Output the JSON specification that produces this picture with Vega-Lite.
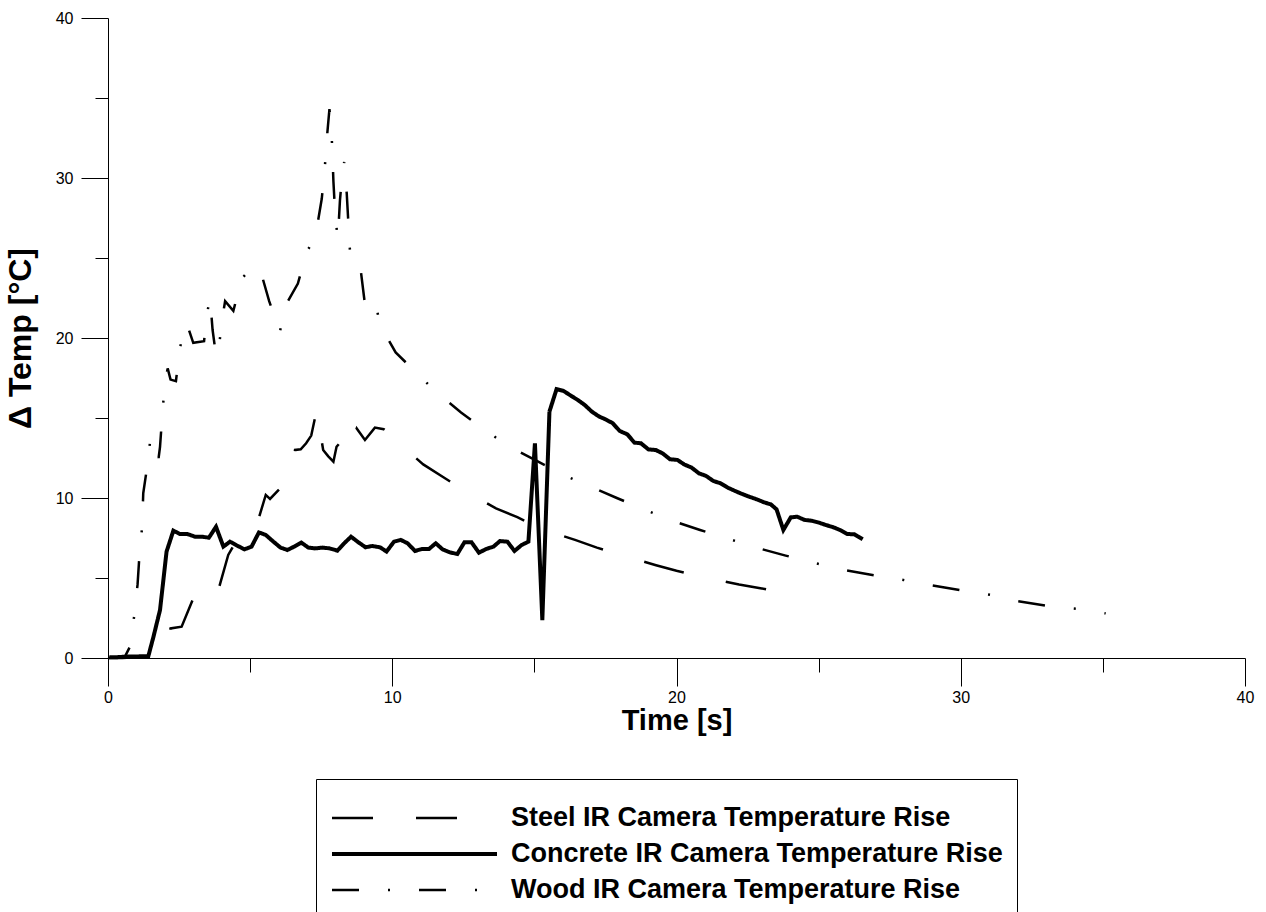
{
  "$schema": "https://vega.github.io/schema/vega-lite/v6.json",
  "width": 1137,
  "height": 640,
  "autosize": {"type": "none"},
  "padding": {"left": 108, "top": 18, "right": 21, "bottom": 254},
  "background": "white",
  "config": {"view": {"stroke": null}, "font": "Liberation Sans"},
  "data": {"values": [
    {"s": "Steel IR Camera Temperature Rise", "t": 0, "v": 0},
    {"s": "Steel IR Camera Temperature Rise", "t": 0.5, "v": 0},
    {"s": "Steel IR Camera Temperature Rise", "t": 1.0, "v": 0.05},
    {"s": "Steel IR Camera Temperature Rise", "t": 1.5, "v": 0.08},
    {"s": "Steel IR Camera Temperature Rise", "t": 2.0, "v": 0.1},
    {"s": "Steel IR Camera Temperature Rise", "t": 2.2, "v": 1.85},
    {"s": "Steel IR Camera Temperature Rise", "t": 2.59, "v": 1.96},
    {"s": "Steel IR Camera Temperature Rise", "t": 3.0, "v": 3.73},
    {"s": "Steel IR Camera Temperature Rise", "t": 3.3, "v": 3.2},
    {"s": "Steel IR Camera Temperature Rise", "t": 3.6, "v": 3.5},
    {"s": "Steel IR Camera Temperature Rise", "t": 3.85, "v": 4.04},
    {"s": "Steel IR Camera Temperature Rise", "t": 4.23, "v": 6.44},
    {"s": "Steel IR Camera Temperature Rise", "t": 4.6, "v": 7.6},
    {"s": "Steel IR Camera Temperature Rise", "t": 5.0, "v": 8.52},
    {"s": "Steel IR Camera Temperature Rise", "t": 5.12, "v": 8.8},
    {"s": "Steel IR Camera Temperature Rise", "t": 5.32, "v": 8.83},
    {"s": "Steel IR Camera Temperature Rise", "t": 5.55, "v": 10.19},
    {"s": "Steel IR Camera Temperature Rise", "t": 5.7, "v": 9.94},
    {"s": "Steel IR Camera Temperature Rise", "t": 6.05, "v": 10.6},
    {"s": "Steel IR Camera Temperature Rise", "t": 6.43, "v": 11.44},
    {"s": "Steel IR Camera Temperature Rise", "t": 6.58, "v": 13.0},
    {"s": "Steel IR Camera Temperature Rise", "t": 6.78, "v": 13.04},
    {"s": "Steel IR Camera Temperature Rise", "t": 6.97, "v": 13.42},
    {"s": "Steel IR Camera Temperature Rise", "t": 7.15, "v": 13.9},
    {"s": "Steel IR Camera Temperature Rise", "t": 7.34, "v": 15.5},
    {"s": "Steel IR Camera Temperature Rise", "t": 7.57, "v": 13.0},
    {"s": "Steel IR Camera Temperature Rise", "t": 7.75, "v": 12.6},
    {"s": "Steel IR Camera Temperature Rise", "t": 7.93, "v": 12.27},
    {"s": "Steel IR Camera Temperature Rise", "t": 8.04, "v": 13.2},
    {"s": "Steel IR Camera Temperature Rise", "t": 8.34, "v": 13.83},
    {"s": "Steel IR Camera Temperature Rise", "t": 8.42, "v": 13.1},
    {"s": "Steel IR Camera Temperature Rise", "t": 8.6, "v": 13.6},
    {"s": "Steel IR Camera Temperature Rise", "t": 8.75, "v": 14.35},
    {"s": "Steel IR Camera Temperature Rise", "t": 9.04, "v": 13.63},
    {"s": "Steel IR Camera Temperature Rise", "t": 9.39, "v": 14.4},
    {"s": "Steel IR Camera Temperature Rise", "t": 9.7, "v": 14.3},
    {"s": "Steel IR Camera Temperature Rise", "t": 10.06, "v": 13.83},
    {"s": "Steel IR Camera Temperature Rise", "t": 10.33, "v": 13.2},
    {"s": "Steel IR Camera Temperature Rise", "t": 10.7, "v": 12.7},
    {"s": "Steel IR Camera Temperature Rise", "t": 11.09, "v": 12.1},
    {"s": "Steel IR Camera Temperature Rise", "t": 11.8, "v": 11.3},
    {"s": "Steel IR Camera Temperature Rise", "t": 12.42, "v": 10.6},
    {"s": "Steel IR Camera Temperature Rise", "t": 13.0, "v": 10.0},
    {"s": "Steel IR Camera Temperature Rise", "t": 13.65, "v": 9.35},
    {"s": "Steel IR Camera Temperature Rise", "t": 14.4, "v": 8.8},
    {"s": "Steel IR Camera Temperature Rise", "t": 15.08, "v": 8.2},
    {"s": "Steel IR Camera Temperature Rise", "t": 15.9, "v": 7.69},
    {"s": "Steel IR Camera Temperature Rise", "t": 16.43, "v": 7.38},
    {"s": "Steel IR Camera Temperature Rise", "t": 17.2, "v": 6.9},
    {"s": "Steel IR Camera Temperature Rise", "t": 17.9, "v": 6.5},
    {"s": "Steel IR Camera Temperature Rise", "t": 18.7, "v": 6.1},
    {"s": "Steel IR Camera Temperature Rise", "t": 19.28, "v": 5.8},
    {"s": "Steel IR Camera Temperature Rise", "t": 20.0, "v": 5.45},
    {"s": "Steel IR Camera Temperature Rise", "t": 20.8, "v": 5.1},
    {"s": "Steel IR Camera Temperature Rise", "t": 21.5, "v": 4.85},
    {"s": "Steel IR Camera Temperature Rise", "t": 22.2, "v": 4.6},
    {"s": "Steel IR Camera Temperature Rise", "t": 23.0, "v": 4.35},
    {"s": "Steel IR Camera Temperature Rise", "t": 23.74, "v": 4.1},
    {"s": "Steel IR Camera Temperature Rise", "t": 24.34, "v": 3.83},

    {"s": "Concrete IR Camera Temperature Rise", "t": 0.05, "v": 0.04},
    {"s": "Concrete IR Camera Temperature Rise", "t": 0.3, "v": 0.05},
    {"s": "Concrete IR Camera Temperature Rise", "t": 0.8, "v": 0.1},
    {"s": "Concrete IR Camera Temperature Rise", "t": 1.05, "v": 0.1},
    {"s": "Concrete IR Camera Temperature Rise", "t": 1.42, "v": 0.12},
    {"s": "Concrete IR Camera Temperature Rise", "t": 1.6, "v": 1.33},
    {"s": "Concrete IR Camera Temperature Rise", "t": 1.83, "v": 3.0},
    {"s": "Concrete IR Camera Temperature Rise", "t": 2.06, "v": 6.65},
    {"s": "Concrete IR Camera Temperature Rise", "t": 2.3, "v": 7.96},
    {"s": "Concrete IR Camera Temperature Rise", "t": 2.53, "v": 7.75},
    {"s": "Concrete IR Camera Temperature Rise", "t": 2.79, "v": 7.75},
    {"s": "Concrete IR Camera Temperature Rise", "t": 3.06, "v": 7.58},
    {"s": "Concrete IR Camera Temperature Rise", "t": 3.3, "v": 7.58},
    {"s": "Concrete IR Camera Temperature Rise", "t": 3.55, "v": 7.52},
    {"s": "Concrete IR Camera Temperature Rise", "t": 3.8, "v": 8.2},
    {"s": "Concrete IR Camera Temperature Rise", "t": 4.06, "v": 6.96},
    {"s": "Concrete IR Camera Temperature Rise", "t": 4.29, "v": 7.27},
    {"s": "Concrete IR Camera Temperature Rise", "t": 4.55, "v": 7.02},
    {"s": "Concrete IR Camera Temperature Rise", "t": 4.8, "v": 6.79},
    {"s": "Concrete IR Camera Temperature Rise", "t": 5.05, "v": 6.96},
    {"s": "Concrete IR Camera Temperature Rise", "t": 5.31, "v": 7.85},
    {"s": "Concrete IR Camera Temperature Rise", "t": 5.55, "v": 7.69},
    {"s": "Concrete IR Camera Temperature Rise", "t": 5.82, "v": 7.27},
    {"s": "Concrete IR Camera Temperature Rise", "t": 6.07, "v": 6.9},
    {"s": "Concrete IR Camera Temperature Rise", "t": 6.31, "v": 6.75},
    {"s": "Concrete IR Camera Temperature Rise", "t": 6.55, "v": 6.96},
    {"s": "Concrete IR Camera Temperature Rise", "t": 6.8, "v": 7.21},
    {"s": "Concrete IR Camera Temperature Rise", "t": 7.05, "v": 6.9},
    {"s": "Concrete IR Camera Temperature Rise", "t": 7.28, "v": 6.85},
    {"s": "Concrete IR Camera Temperature Rise", "t": 7.55, "v": 6.9},
    {"s": "Concrete IR Camera Temperature Rise", "t": 7.8, "v": 6.85},
    {"s": "Concrete IR Camera Temperature Rise", "t": 8.07, "v": 6.71},
    {"s": "Concrete IR Camera Temperature Rise", "t": 8.31, "v": 7.17},
    {"s": "Concrete IR Camera Temperature Rise", "t": 8.55, "v": 7.58},
    {"s": "Concrete IR Camera Temperature Rise", "t": 8.81, "v": 7.23},
    {"s": "Concrete IR Camera Temperature Rise", "t": 9.06, "v": 6.92},
    {"s": "Concrete IR Camera Temperature Rise", "t": 9.3, "v": 7.0},
    {"s": "Concrete IR Camera Temperature Rise", "t": 9.57, "v": 6.92},
    {"s": "Concrete IR Camera Temperature Rise", "t": 9.8, "v": 6.65},
    {"s": "Concrete IR Camera Temperature Rise", "t": 10.06, "v": 7.27},
    {"s": "Concrete IR Camera Temperature Rise", "t": 10.3, "v": 7.38},
    {"s": "Concrete IR Camera Temperature Rise", "t": 10.54, "v": 7.17},
    {"s": "Concrete IR Camera Temperature Rise", "t": 10.8, "v": 6.69},
    {"s": "Concrete IR Camera Temperature Rise", "t": 11.04, "v": 6.81},
    {"s": "Concrete IR Camera Temperature Rise", "t": 11.29, "v": 6.81},
    {"s": "Concrete IR Camera Temperature Rise", "t": 11.53, "v": 7.17},
    {"s": "Concrete IR Camera Temperature Rise", "t": 11.77, "v": 6.79},
    {"s": "Concrete IR Camera Temperature Rise", "t": 12.03, "v": 6.6},
    {"s": "Concrete IR Camera Temperature Rise", "t": 12.29, "v": 6.5},
    {"s": "Concrete IR Camera Temperature Rise", "t": 12.54, "v": 7.23},
    {"s": "Concrete IR Camera Temperature Rise", "t": 12.79, "v": 7.23},
    {"s": "Concrete IR Camera Temperature Rise", "t": 13.05, "v": 6.58},
    {"s": "Concrete IR Camera Temperature Rise", "t": 13.3, "v": 6.81},
    {"s": "Concrete IR Camera Temperature Rise", "t": 13.56, "v": 6.96},
    {"s": "Concrete IR Camera Temperature Rise", "t": 13.79, "v": 7.31},
    {"s": "Concrete IR Camera Temperature Rise", "t": 14.05, "v": 7.27},
    {"s": "Concrete IR Camera Temperature Rise", "t": 14.3, "v": 6.69},
    {"s": "Concrete IR Camera Temperature Rise", "t": 14.55, "v": 7.06},
    {"s": "Concrete IR Camera Temperature Rise", "t": 14.79, "v": 7.27},
    {"s": "Concrete IR Camera Temperature Rise", "t": 15.02, "v": 13.42},
    {"s": "Concrete IR Camera Temperature Rise", "t": 15.28, "v": 2.37},
    {"s": "Concrete IR Camera Temperature Rise", "t": 15.53, "v": 15.4},
    {"s": "Concrete IR Camera Temperature Rise", "t": 15.78, "v": 16.8},
    {"s": "Concrete IR Camera Temperature Rise", "t": 16.02, "v": 16.7},
    {"s": "Concrete IR Camera Temperature Rise", "t": 16.28, "v": 16.4},
    {"s": "Concrete IR Camera Temperature Rise", "t": 16.55, "v": 16.1},
    {"s": "Concrete IR Camera Temperature Rise", "t": 16.78, "v": 15.8},
    {"s": "Concrete IR Camera Temperature Rise", "t": 17.02, "v": 15.4},
    {"s": "Concrete IR Camera Temperature Rise", "t": 17.27, "v": 15.1},
    {"s": "Concrete IR Camera Temperature Rise", "t": 17.52, "v": 14.9},
    {"s": "Concrete IR Camera Temperature Rise", "t": 17.76, "v": 14.67},
    {"s": "Concrete IR Camera Temperature Rise", "t": 18.0, "v": 14.19},
    {"s": "Concrete IR Camera Temperature Rise", "t": 18.27, "v": 13.98},
    {"s": "Concrete IR Camera Temperature Rise", "t": 18.52, "v": 13.46},
    {"s": "Concrete IR Camera Temperature Rise", "t": 18.75, "v": 13.42},
    {"s": "Concrete IR Camera Temperature Rise", "t": 19.01, "v": 13.04},
    {"s": "Concrete IR Camera Temperature Rise", "t": 19.27, "v": 13.0},
    {"s": "Concrete IR Camera Temperature Rise", "t": 19.51, "v": 12.79},
    {"s": "Concrete IR Camera Temperature Rise", "t": 19.77, "v": 12.42},
    {"s": "Concrete IR Camera Temperature Rise", "t": 20.03, "v": 12.38},
    {"s": "Concrete IR Camera Temperature Rise", "t": 20.27, "v": 12.1},
    {"s": "Concrete IR Camera Temperature Rise", "t": 20.53, "v": 11.9},
    {"s": "Concrete IR Camera Temperature Rise", "t": 20.79, "v": 11.54},
    {"s": "Concrete IR Camera Temperature Rise", "t": 21.04, "v": 11.38},
    {"s": "Concrete IR Camera Temperature Rise", "t": 21.3, "v": 11.06},
    {"s": "Concrete IR Camera Temperature Rise", "t": 21.55, "v": 10.92},
    {"s": "Concrete IR Camera Temperature Rise", "t": 21.8, "v": 10.65},
    {"s": "Concrete IR Camera Temperature Rise", "t": 22.06, "v": 10.44},
    {"s": "Concrete IR Camera Temperature Rise", "t": 22.31, "v": 10.25},
    {"s": "Concrete IR Camera Temperature Rise", "t": 22.56, "v": 10.08},
    {"s": "Concrete IR Camera Temperature Rise", "t": 22.82, "v": 9.92},
    {"s": "Concrete IR Camera Temperature Rise", "t": 23.08, "v": 9.73},
    {"s": "Concrete IR Camera Temperature Rise", "t": 23.32, "v": 9.6},
    {"s": "Concrete IR Camera Temperature Rise", "t": 23.52, "v": 9.29},
    {"s": "Concrete IR Camera Temperature Rise", "t": 23.76, "v": 8.0},
    {"s": "Concrete IR Camera Temperature Rise", "t": 24.02, "v": 8.79},
    {"s": "Concrete IR Camera Temperature Rise", "t": 24.25, "v": 8.83},
    {"s": "Concrete IR Camera Temperature Rise", "t": 24.5, "v": 8.63},
    {"s": "Concrete IR Camera Temperature Rise", "t": 24.76, "v": 8.58},
    {"s": "Concrete IR Camera Temperature Rise", "t": 25.01, "v": 8.46},
    {"s": "Concrete IR Camera Temperature Rise", "t": 25.26, "v": 8.31},
    {"s": "Concrete IR Camera Temperature Rise", "t": 25.52, "v": 8.17},
    {"s": "Concrete IR Camera Temperature Rise", "t": 25.75, "v": 8.0},
    {"s": "Concrete IR Camera Temperature Rise", "t": 26.01, "v": 7.75},
    {"s": "Concrete IR Camera Temperature Rise", "t": 26.26, "v": 7.73},
    {"s": "Concrete IR Camera Temperature Rise", "t": 26.55, "v": 7.42},

    {"s": "Wood IR Camera Temperature Rise", "t": 0, "v": 0},
    {"s": "Wood IR Camera Temperature Rise", "t": 0.3, "v": 0.05},
    {"s": "Wood IR Camera Temperature Rise", "t": 0.6, "v": 0.1},
    {"s": "Wood IR Camera Temperature Rise", "t": 0.77, "v": 0.7},
    {"s": "Wood IR Camera Temperature Rise", "t": 0.92, "v": 2.6},
    {"s": "Wood IR Camera Temperature Rise", "t": 1.04, "v": 4.6},
    {"s": "Wood IR Camera Temperature Rise", "t": 1.1, "v": 6.25},
    {"s": "Wood IR Camera Temperature Rise", "t": 1.2, "v": 8.2},
    {"s": "Wood IR Camera Temperature Rise", "t": 1.24, "v": 10.3},
    {"s": "Wood IR Camera Temperature Rise", "t": 1.36, "v": 11.75},
    {"s": "Wood IR Camera Temperature Rise", "t": 1.5, "v": 13.8},
    {"s": "Wood IR Camera Temperature Rise", "t": 1.69, "v": 13.3},
    {"s": "Wood IR Camera Temperature Rise", "t": 1.78, "v": 12.5},
    {"s": "Wood IR Camera Temperature Rise", "t": 1.83, "v": 13.2},
    {"s": "Wood IR Camera Temperature Rise", "t": 1.91, "v": 15.2},
    {"s": "Wood IR Camera Temperature Rise", "t": 2.0, "v": 17.2},
    {"s": "Wood IR Camera Temperature Rise", "t": 2.1, "v": 18.1},
    {"s": "Wood IR Camera Temperature Rise", "t": 2.2, "v": 17.4},
    {"s": "Wood IR Camera Temperature Rise", "t": 2.39, "v": 17.3},
    {"s": "Wood IR Camera Temperature Rise", "t": 2.53, "v": 19.4},
    {"s": "Wood IR Camera Temperature Rise", "t": 2.77, "v": 20.9},
    {"s": "Wood IR Camera Temperature Rise", "t": 3.0, "v": 19.7},
    {"s": "Wood IR Camera Temperature Rise", "t": 3.38, "v": 19.8},
    {"s": "Wood IR Camera Temperature Rise", "t": 3.47, "v": 21.4},
    {"s": "Wood IR Camera Temperature Rise", "t": 3.59, "v": 22.5},
    {"s": "Wood IR Camera Temperature Rise", "t": 3.68, "v": 20.5},
    {"s": "Wood IR Camera Temperature Rise", "t": 3.8, "v": 18.9},
    {"s": "Wood IR Camera Temperature Rise", "t": 3.88, "v": 19.0},
    {"s": "Wood IR Camera Temperature Rise", "t": 4.0, "v": 21.0},
    {"s": "Wood IR Camera Temperature Rise", "t": 4.12, "v": 22.3},
    {"s": "Wood IR Camera Temperature Rise", "t": 4.41, "v": 21.7},
    {"s": "Wood IR Camera Temperature Rise", "t": 4.7, "v": 23.7},
    {"s": "Wood IR Camera Temperature Rise", "t": 4.9, "v": 24.1},
    {"s": "Wood IR Camera Temperature Rise", "t": 5.1, "v": 24.0},
    {"s": "Wood IR Camera Temperature Rise", "t": 5.35, "v": 24.3},
    {"s": "Wood IR Camera Temperature Rise", "t": 5.67, "v": 22.3},
    {"s": "Wood IR Camera Temperature Rise", "t": 6.05, "v": 20.4},
    {"s": "Wood IR Camera Temperature Rise", "t": 6.23, "v": 22.0},
    {"s": "Wood IR Camera Temperature Rise", "t": 6.68, "v": 23.4},
    {"s": "Wood IR Camera Temperature Rise", "t": 6.99, "v": 25.4},
    {"s": "Wood IR Camera Temperature Rise", "t": 7.2, "v": 26.0},
    {"s": "Wood IR Camera Temperature Rise", "t": 7.34, "v": 26.8},
    {"s": "Wood IR Camera Temperature Rise", "t": 7.52, "v": 28.7},
    {"s": "Wood IR Camera Temperature Rise", "t": 7.63, "v": 30.7},
    {"s": "Wood IR Camera Temperature Rise", "t": 7.69, "v": 32.3},
    {"s": "Wood IR Camera Temperature Rise", "t": 7.79, "v": 34.3},
    {"s": "Wood IR Camera Temperature Rise", "t": 7.85, "v": 33.4},
    {"s": "Wood IR Camera Temperature Rise", "t": 7.89, "v": 31.75},
    {"s": "Wood IR Camera Temperature Rise", "t": 7.93, "v": 29.8},
    {"s": "Wood IR Camera Temperature Rise", "t": 7.99, "v": 27.8},
    {"s": "Wood IR Camera Temperature Rise", "t": 8.08, "v": 26.2},
    {"s": "Wood IR Camera Temperature Rise", "t": 8.1, "v": 26.6},
    {"s": "Wood IR Camera Temperature Rise", "t": 8.16, "v": 28.6},
    {"s": "Wood IR Camera Temperature Rise", "t": 8.24, "v": 30.2},
    {"s": "Wood IR Camera Temperature Rise", "t": 8.31, "v": 31.0},
    {"s": "Wood IR Camera Temperature Rise", "t": 8.4, "v": 29.0},
    {"s": "Wood IR Camera Temperature Rise", "t": 8.45, "v": 27.4},
    {"s": "Wood IR Camera Temperature Rise", "t": 8.51, "v": 25.5},
    {"s": "Wood IR Camera Temperature Rise", "t": 8.78, "v": 25.3},
    {"s": "Wood IR Camera Temperature Rise", "t": 8.89, "v": 24.25},
    {"s": "Wood IR Camera Temperature Rise", "t": 9.04, "v": 22.1},
    {"s": "Wood IR Camera Temperature Rise", "t": 9.39, "v": 22.4},
    {"s": "Wood IR Camera Temperature Rise", "t": 9.57, "v": 20.8},
    {"s": "Wood IR Camera Temperature Rise", "t": 10.12, "v": 19.1},
    {"s": "Wood IR Camera Temperature Rise", "t": 10.92, "v": 17.7},
    {"s": "Wood IR Camera Temperature Rise", "t": 11.56, "v": 16.6},
    {"s": "Wood IR Camera Temperature Rise", "t": 12.42, "v": 15.35},
    {"s": "Wood IR Camera Temperature Rise", "t": 13.3, "v": 14.2},
    {"s": "Wood IR Camera Temperature Rise", "t": 14.08, "v": 13.25},
    {"s": "Wood IR Camera Temperature Rise", "t": 15.0, "v": 12.4},
    {"s": "Wood IR Camera Temperature Rise", "t": 16.02, "v": 11.44},
    {"s": "Wood IR Camera Temperature Rise", "t": 16.9, "v": 10.77},
    {"s": "Wood IR Camera Temperature Rise", "t": 17.9, "v": 10.0},
    {"s": "Wood IR Camera Temperature Rise", "t": 18.92, "v": 9.25},
    {"s": "Wood IR Camera Temperature Rise", "t": 19.77, "v": 8.63},
    {"s": "Wood IR Camera Temperature Rise", "t": 20.83, "v": 8.0},
    {"s": "Wood IR Camera Temperature Rise", "t": 21.88, "v": 7.42},
    {"s": "Wood IR Camera Temperature Rise", "t": 22.76, "v": 6.92},
    {"s": "Wood IR Camera Temperature Rise", "t": 23.84, "v": 6.4},
    {"s": "Wood IR Camera Temperature Rise", "t": 24.9, "v": 5.92},
    {"s": "Wood IR Camera Temperature Rise", "t": 25.8, "v": 5.54},
    {"s": "Wood IR Camera Temperature Rise", "t": 26.89, "v": 5.19},
    {"s": "Wood IR Camera Temperature Rise", "t": 27.98, "v": 4.88},
    {"s": "Wood IR Camera Temperature Rise", "t": 28.9, "v": 4.56},
    {"s": "Wood IR Camera Temperature Rise", "t": 29.97, "v": 4.25},
    {"s": "Wood IR Camera Temperature Rise", "t": 31.06, "v": 3.94},
    {"s": "Wood IR Camera Temperature Rise", "t": 31.97, "v": 3.56},
    {"s": "Wood IR Camera Temperature Rise", "t": 33.06, "v": 3.25},
    {"s": "Wood IR Camera Temperature Rise", "t": 34.16, "v": 3.06},
    {"s": "Wood IR Camera Temperature Rise", "t": 35.1, "v": 2.79}
  ]},
  "layer": [
    {
      "mark": {"type": "line", "color": "black", "strokeCap": "butt"},
      "encoding": {
        "x": {"field": "t", "type": "quantitative", "scale": {"domain": [0, 40], "nice": false, "zero": true},
          "axis": {"orient": "bottom", "values": [0, 10, 20, 30, 40], "tickSize": 28, "tickColor": "black", "tickWidth": 1,
            "domainColor": "black", "domainWidth": 1, "grid": false, "labelFont": "Liberation Sans", "labelFontSize": 16,
            "labelColor": "black", "labelPadding": 3, "labelOverlap": false, "labelFlush": false,
            "title": "Time [s]", "titleFont": "Liberation Sans", "titleFontSize": 29, "titleFontWeight": "bold", "titleColor": "black",
            "titleX": 568.5, "titleY": 62, "titleAlign": "center", "titleBaseline": "middle"}},
        "y": {"field": "v", "type": "quantitative", "scale": {"domain": [0, 40], "nice": false, "zero": true},
          "axis": {"orient": "left", "values": [0, 10, 20, 30, 40], "tickSize": 27, "tickColor": "black", "tickWidth": 1,
            "domainColor": "black", "domainWidth": 1, "grid": false, "labelFont": "Liberation Sans", "labelFontSize": 16,
            "labelColor": "black", "labelPadding": 8, "labelOverlap": false, "labelFlush": false,
            "title": "Δ Temp [°C]", "titleFont": "Liberation Sans", "titleFontSize": 32, "titleFontWeight": "bold", "titleColor": "black",
            "titleX": -88, "titleY": 320, "titleAngle": -90, "titleAlign": "center", "titleBaseline": "middle"}},
        "strokeDash": {"field": "s", "type": "nominal",
          "scale": {"domain": ["Steel IR Camera Temperature Rise", "Concrete IR Camera Temperature Rise", "Wood IR Camera Temperature Rise"],
            "range": [[41, 43], [1, 0], [27, 29, 2, 29]]},
          "legend": {"title": " ", "titleFontSize": 7, "titlePadding": 0, "orient": "none", "legendX": 208, "legendY": 761, "strokeColor": "black", "fillColor": "white",
            "padding": 14, "symbolType": "stroke", "symbolSize": 27225, "symbolStrokeColor": "black", "labelOffset": 12,
            "labelFont": "Liberation Sans", "labelFontSize": 27, "labelFontWeight": "bold", "labelColor": "black", "labelLimit": 800,
            "clipHeight": 36, "rowPadding": 0}},
        "strokeWidth": {"field": "s", "type": "nominal",
          "scale": {"type": "ordinal", "domain": ["Steel IR Camera Temperature Rise", "Concrete IR Camera Temperature Rise", "Wood IR Camera Temperature Rise"],
            "range": [2.5, 4, 2.5]},
          "legend": {"title": " ", "titleFontSize": 7, "titlePadding": 0, "orient": "none", "legendX": 208, "legendY": 761, "strokeColor": "black", "fillColor": "white",
            "padding": 14, "symbolType": "stroke", "symbolSize": 27225, "symbolStrokeColor": "black", "labelOffset": 12,
            "labelFont": "Liberation Sans", "labelFontSize": 27, "labelFontWeight": "bold", "labelColor": "black", "labelLimit": 800,
            "clipHeight": 36, "rowPadding": 0}}
      }
    },
    {
      "mark": {"type": "line", "opacity": 0},
      "encoding": {
        "x": {"field": "t", "type": "quantitative",
          "axis": {"orient": "bottom", "values": [5, 15, 25, 35], "tickSize": 14, "tickColor": "black", "tickWidth": 1,
            "labels": false, "domain": false, "grid": false, "title": null}},
        "y": {"field": "v", "type": "quantitative",
          "axis": {"orient": "left", "values": [5, 15, 25, 35], "tickSize": 13, "tickColor": "black", "tickWidth": 1,
            "labels": false, "domain": false, "grid": false, "title": null}},
        "detail": {"field": "s", "type": "nominal"}
      }
    }
  ],
  "resolve": {"axis": {"x": "independent", "y": "independent"}}
}
